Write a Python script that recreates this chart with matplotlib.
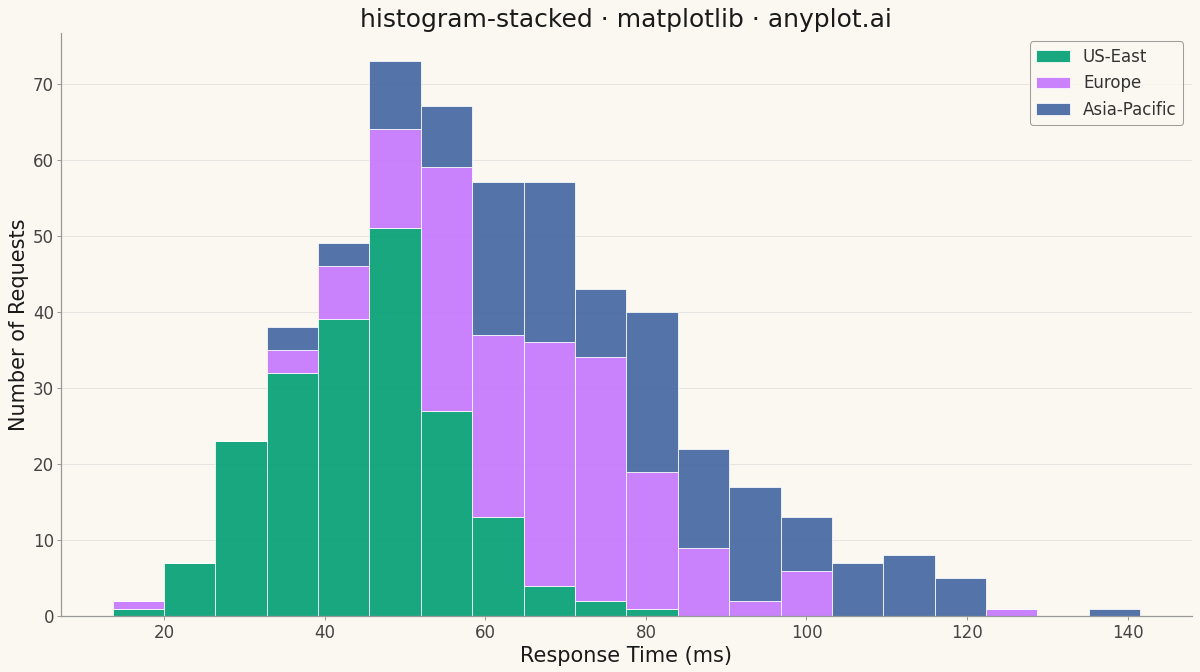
import numpy as np
import matplotlib.pyplot as plt

plt.rcParams['font.family'] = ['DejaVu Sans']

# Histogram bins (ms) and counts per region
bin_start = 13.57
bin_width = 6.4
n_bins = 20

regions = ['US-East', 'Europe', 'Asia-Pacific']
us_east = [1, 7, 23, 32, 39, 51, 27, 13, 4, 2, 1, 0, 0, 0, 0, 0, 0, 0, 0, 0]
europe = [1, 0, 0, 3, 7, 13, 32, 24, 32, 32, 18, 9, 2, 6, 0, 0, 0, 1, 0, 0]
asia_pacific = [0, 0, 0, 3, 3, 9, 8, 20, 21, 9, 21, 13, 15, 7, 7, 8, 5, 0, 0, 1]

colors = ['#009E73', '#C475FD', '#4165A1']
bg = '#FAF8F1'

edges = bin_start + bin_width * np.arange(n_bins + 1)
centers = (edges[:-1] + edges[1:]) / 2

fig, ax = plt.subplots(figsize=(16, 8.96), dpi=75)
fig.patch.set_facecolor(bg)
ax.set_facecolor(bg)

ax.hist([centers, centers, centers], bins=edges,
        weights=[us_east, europe, asia_pacific],
        stacked=True, color=colors, label=regions,
        alpha=0.9, edgecolor='white', linewidth=0.8)

ax.set_title('histogram-stacked · matplotlib · anyplot.ai', fontsize=24, color='#1a1a1a')
ax.set_xlabel('Response Time (ms)', fontsize=20, color='#1a1a1a')
ax.set_ylabel('Number of Requests', fontsize=20, color='#1a1a1a')
ax.tick_params(labelsize=16, colors='#444444')
ax.tick_params(axis='both', color='#888888')

ax.spines['top'].set_visible(False)
ax.spines['right'].set_visible(False)
for s in ['left', 'bottom']:
    ax.spines[s].set_color('#999999')
    ax.spines[s].set_linewidth(1.2)

ax.yaxis.grid(True, color='#dddddd', linewidth=0.8, alpha=0.8)
ax.set_axisbelow(True)

leg = ax.legend(fontsize=16, loc='upper right', facecolor=bg, edgecolor='#888888')
for t in leg.get_texts():
    t.set_color('#333333')

fig.subplots_adjust(left=0.051, right=0.993, bottom=0.083, top=0.951)
plt.savefig('out.png', dpi=75, facecolor=bg)
plt.close()
